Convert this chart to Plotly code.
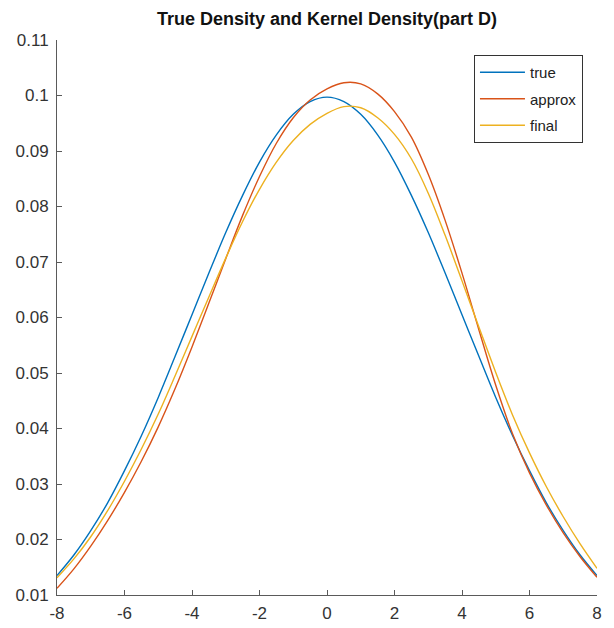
import plotly.graph_objects as go

# ---- data ----
x_vals = [-8, -7.5, -7, -6.5, -6, -5.5, -5, -4.5, -4, -3.5, -3, -2.5, -2, -1.5, -1, -0.5,
          0, 0.5, 1, 1.5, 2, 2.5, 3, 3.5, 4, 4.5, 5, 5.5, 6, 6.5, 7, 7.5, 8]

true_vals = [0.0135, 0.0172, 0.0216, 0.0266, 0.0324, 0.0387, 0.0456, 0.0530, 0.0605, 0.0680,
             0.0753, 0.0820, 0.0880, 0.0929, 0.0966, 0.0989, 0.0997, 0.0989, 0.0966, 0.0929,
             0.0880, 0.0820, 0.0753, 0.0680, 0.0605, 0.0530, 0.0456, 0.0387, 0.0324, 0.0266,
             0.0216, 0.0172, 0.0135]

approx_vals = [0.0112, 0.0147, 0.0188, 0.0234, 0.0285, 0.0341, 0.0403, 0.0472, 0.0547, 0.0626,
               0.0706, 0.0784, 0.0854, 0.0914, 0.0960, 0.0992, 0.1012, 0.1023, 0.1021, 0.1003,
               0.0971, 0.0925, 0.0858, 0.0775, 0.0680, 0.0578, 0.0478, 0.0390, 0.0320, 0.0262,
               0.0212, 0.0169, 0.0132]

final_vals = [0.0131, 0.0165, 0.0205, 0.0252, 0.0305, 0.0363, 0.0426, 0.0495, 0.0566, 0.0637,
              0.0707, 0.0773, 0.0831, 0.0880, 0.0919, 0.0948, 0.0968, 0.0980, 0.0978, 0.0960,
              0.0930, 0.0886, 0.0824, 0.0748, 0.0666, 0.0583, 0.0501, 0.0424, 0.0356, 0.0295,
              0.0241, 0.0192, 0.0148]

series_names = ["true", "approx", "final"]
series_colors = ["#0072BD", "#D95319", "#EDB120"]

x_ticks = [-8, -6, -4, -2, 0, 2, 4, 6, 8]
x_tick_labels = ["-8", "-6", "-4", "-2", "0", "2", "4", "6", "8"]
y_ticks = [0.01, 0.02, 0.03, 0.04, 0.05, 0.06, 0.07, 0.08, 0.09, 0.1, 0.11]
y_tick_labels = ["0.01", "0.02", "0.03", "0.04", "0.05", "0.06", "0.07", "0.08", "0.09", "0.1", "0.11"]

title_text = "True Density and Kernel Density(part D)"

FONT = "Liberation Sans, Arial, sans-serif"

fig = go.Figure()
for name, vals, col in zip(series_names, [true_vals, approx_vals, final_vals], series_colors):
    fig.add_trace(go.Scatter(
        x=x_vals, y=vals, mode="lines", name=name, legendgroup=name,
        line=dict(color=col, width=1.4, shape="spline", smoothing=1.0),
    ))

axis_common = dict(
    showgrid=False, zeroline=False, showline=True, linecolor="#5a5a5a", linewidth=1,
    ticks="inside", ticklen=5, tickcolor="#5a5a5a", tickwidth=1,
    tickfont=dict(family=FONT, size=17, color="#333333"),
    mirror=False, automargin=False,
)

fig.update_layout(
    width=614, height=628,
    margin=dict(l=57, r=17, t=40, b=33),
    paper_bgcolor="white", plot_bgcolor="white",
    title=dict(text="<b>" + title_text + "</b>", x=0.5, xanchor="center",
               xref="paper", y=0.971, yanchor="middle", yref="container",
               font=dict(family=FONT, size=18, color="#111111"), automargin=False),
    xaxis=dict(range=[-8, 8], tickmode="array", tickvals=x_ticks, ticktext=x_tick_labels,
               ticklabelstandoff=3, **axis_common),
    yaxis=dict(range=[0.01, 0.11], tickmode="array", tickvals=y_ticks, ticktext=y_tick_labels,
               ticklabelstandoff=4, **axis_common),
    legend=dict(x=0.974, y=0.973, xanchor="right", yanchor="top",
                bgcolor="white", bordercolor="#333333", borderwidth=1,
                font=dict(family=FONT, size=15, color="#222222"),
                tracegroupgap=4, itemwidth=45),
    showlegend=True,
)

fig.write_html("out.html")
